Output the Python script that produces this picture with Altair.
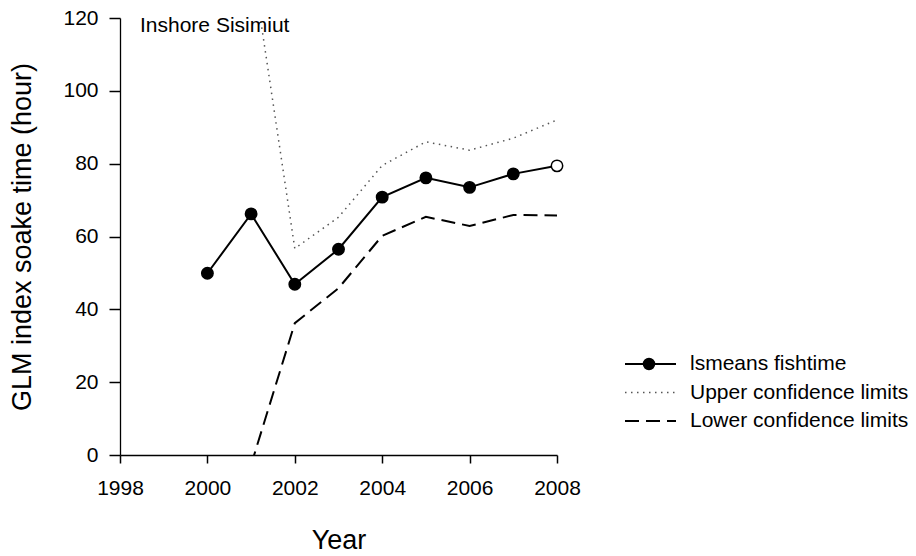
import altair as alt
import pandas as pd

# Inshore Sisimiut: GLM least-squares means of soak time with confidence limits
years = [2000, 2001, 2002, 2003, 2004, 2005, 2006, 2007, 2008]
lsmeans = [49.9, 66.2, 46.9, 56.5, 70.8, 76.1, 73.5, 77.2, 79.4]
final_estimate = [True, True, True, True, True, True, True, True, False]

ci_years = [2001, 2002, 2003, 2004, 2005, 2006, 2007, 2008]
upper = [137.0, 56.7, 65.3, 79.5, 86.0, 83.7, 87.0, 92.0]
lower = [-2.7, 36.2, 45.8, 60.2, 65.4, 62.9, 65.9, 65.8]

legend_labels = ["lsmeans fishtime", "Upper confidence limits", "Lower confidence limits"]
x_ticks = [1998, 2000, 2002, 2004, 2006, 2008]
y_ticks = [0, 20, 40, 60, 80, 100, 120]

FONT = "Liberation Sans"
W, H = 437, 437
TICK = "black"

means_df = pd.DataFrame({"Year": years, "value": lsmeans, "final": final_estimate})
upper_df = pd.DataFrame({"Year": ci_years, "value": upper})
lower_df = pd.DataFrame({"Year": ci_years, "value": lower})

x_enc = alt.X(
    "Year:Q",
    scale=alt.Scale(domain=[1998, 2008], nice=False, zero=False),
    axis=alt.Axis(
        values=x_ticks, format="d", title="Year", grid=False,
        tickSize=8, tickWidth=1.5, tickColor=TICK,
        domainColor="black", domainWidth=1.3,
        labelFlush=False, labelPadding=14, labelFontSize=21, labelFont=FONT, labelColor="black",
        titleFontSize=27, titleFont=FONT, titleFontWeight="normal", titleColor="black",
        titleY=93, titleBaseline="alphabetic",
    ),
)
y_enc = alt.Y(
    "value:Q",
    scale=alt.Scale(domain=[0, 120], nice=False),
    axis=alt.Axis(
        values=y_ticks, title="GLM index soake time (hour)", grid=False,
        tickSize=11, tickWidth=1.5, tickColor=TICK,
        domainColor="black", domainWidth=1.3,
        labelFlush=False, labelPadding=11, labelFontSize=21, labelFont=FONT, labelColor="black",
        titleFontSize=27, titleFont=FONT, titleFontWeight="normal", titleColor="black",
        titleX=-90, titleY=218.5,
        titleBaseline="alphabetic", titleAlign="center", titleAngle=-90,
    ),
)

upper_line = alt.Chart(upper_df).mark_line(
    clip=True, color="#555555", strokeWidth=1.5, strokeDash=[1.5, 4.5]
).encode(x=x_enc, y=y_enc)

lower_line = alt.Chart(lower_df).mark_line(
    clip=True, color="black", strokeWidth=2, strokeDash=[14, 7]
).encode(x=x_enc, y=y_enc)

mean_line = alt.Chart(means_df).mark_line(color="black", strokeWidth=2).encode(x=x_enc, y=y_enc)

mean_points = alt.Chart(means_df).mark_point(
    shape="circle", size=130, stroke="black", strokeWidth=1.5, opacity=1
).encode(
    x=x_enc, y=y_enc,
    fill=alt.condition("datum.final", alt.value("black"), alt.value("white")),
)

area_label = alt.Chart(pd.DataFrame({"t": ["Inshore Sisimiut"]})).mark_text(
    font=FONT, fontSize=21, align="left", baseline="alphabetic", color="black"
).encode(text="t:N", x=alt.value(20), y=alt.value(14))

# Hand-built legend to the right of the plot
one = pd.DataFrame({"k": [0]})
row_y = [346, 374.5, 403]
key_x0, key_x1, key_dot, text_x = 505, 556, 529, 570
legend_layers = [
    alt.Chart(one).mark_rule(color="black", strokeWidth=2).encode(
        x=alt.value(key_x0), x2=alt.value(key_x1), y=alt.value(row_y[0])),
    alt.Chart(one).mark_point(shape="circle", size=110, fill="black", stroke="black", opacity=1).encode(
        x=alt.value(key_dot), y=alt.value(row_y[0])),
    alt.Chart(one).mark_rule(color="#555555", strokeWidth=1.5, strokeDash=[1.5, 4.5]).encode(
        x=alt.value(key_x0), x2=alt.value(key_x1), y=alt.value(row_y[1])),
    alt.Chart(one).mark_rule(color="black", strokeWidth=2, strokeDash=[14, 7]).encode(
        x=alt.value(key_x0), x2=alt.value(key_x1), y=alt.value(row_y[2])),
]
for label, ry in zip(legend_labels, row_y):
    legend_layers.append(
        alt.Chart(pd.DataFrame({"t": [label]})).mark_text(
            font=FONT, fontSize=21, align="left", baseline="middle", color="black"
        ).encode(text="t:N", x=alt.value(text_x), y=alt.value(ry))
    )

chart = alt.layer(
    upper_line, lower_line, mean_line, mean_points, area_label, *legend_layers
).properties(
    width=W, height=H,
    autosize=alt.AutoSizeParams(type="none"),
    padding={"left": 120, "top": 18, "right": 359, "bottom": 101},
    background="white",
).configure_view(stroke=None)

chart.save("out.html", embed_options={"renderer": "svg", "actions": False})
